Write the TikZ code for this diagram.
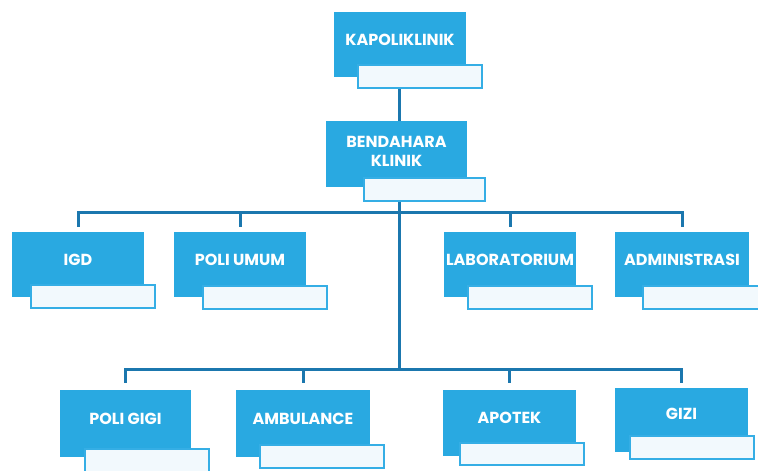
\documentclass[tikz,border=0pt]{standalone}
\usepackage{fontspec}
\newfontfamily\lblfont{Poppins}
\definecolor{boxblue}{HTML}{29A9E1}
\definecolor{linkblue}{HTML}{1B77AE}
\definecolor{wfill}{HTML}{F2F9FD}
\definecolor{wborder}{HTML}{35AEE5}
\tikzset{
  bbox/.style={fill=boxblue, draw=none, inner sep=0pt},
  wbox/.style={fill=wfill, draw=wborder, line width=2pt, inner sep=0pt, minimum width=124pt, minimum height=23pt},
  btext/.style={text=white, font=\lblfont\bfseries\fontsize{16}{19}\selectfont, inner sep=0pt, align=center},
  link/.style={draw=linkblue, line width=3pt}
}
\newcommand\orgunit[5]{%
  \node[bbox, minimum width=#4pt, minimum height=#5pt] (#1) at (#2,#3) {};
}
\begin{document}
\begin{tikzpicture}[x=1pt,y=-1pt]
\useasboundingbox (0,0) rectangle (758,471);
\fill[white] (0,0) rectangle (758,471);

% blue boxes
\orgunit{kapo}{400}{44.5}{132}{65}
\orgunit{bend}{396.5}{154}{141}{66}
\orgunit{igd}{78}{264.5}{132}{65}
\orgunit{umum}{240}{264.5}{132}{65}
\orgunit{lab}{510}{264.5}{132}{65}
\orgunit{adm}{682}{264.5}{134}{65}
\orgunit{gigi}{125.5}{423.5}{131}{67}
\orgunit{amb}{303}{423.5}{134}{67}
\orgunit{apo}{509.5}{423}{133}{66}
\orgunit{gizi}{681.5}{420}{133}{64}

% white boxes
\node[wbox] (kapo-w) at (420,76.5) {};
\node[wbox, minimum width=121pt] (bend-w) at (424.5,189.5) {};
\node[wbox] (igd-w) at (93,296) {};
\node[wbox] (umum-w) at (265,297.5) {};
\node[wbox] (lab-w) at (530,297.5) {};
\node[wbox] (adm-w) at (705,297.5) {};
\node[wbox] (gigi-w) at (146.5,460.5) {};
\node[wbox] (amb-w) at (321.5,456.5) {};
\node[wbox, minimum height=22pt] (apo-w) at (522,454) {};
\node[wbox] (gizi-w) at (692,447) {};

% texts
\node[btext] (kapo-t) at ([yshift=5pt]kapo.center) {KAPOLIKLINIK};
\node[btext] (bend-t) at ([yshift=2.5pt]bend.center) {BENDAHARA\\KLINIK};
\node[btext] (igd-t) at ([yshift=5pt]igd.center) {IGD};
\node[btext] (umum-t) at ([yshift=5pt]umum.center) {POLI UMUM};
\node[btext] (lab-t) at ([yshift=5pt]lab.center) {LABORATORIUM};
\node[btext] (adm-t) at ([yshift=5pt]adm.center) {ADMINISTRASI};
\node[btext] (gigi-t) at ([yshift=5pt]gigi.center) {POLI GIGI};
\node[btext] (amb-t) at ([yshift=5pt]amb.center) {AMBULANCE};
\node[btext] (apo-t) at ([yshift=5pt]apo.center) {APOTEK};
\node[btext] (gizi-t) at ([yshift=6pt]gizi.center) {GIZI};

% connectors
\coordinate (bus1) at (399,212);
\coordinate (bus2) at (399,369);
\draw[link] (kapo-w.south -| bus1) -- (bend.north -| bus1);
\draw[link] (bend-w.south -| bus1) -- (bus2);
\draw[link, shorten <=5pt] (igd.north) |- (bus1);
\draw[link, shorten <=5pt] (umum.north) |- (bus1);
\draw[link, shorten <=5pt] (lab.north) |- (bus1);
\draw[link, shorten <=5pt] (adm.north) |- (bus1);
\draw[link, shorten <=7pt] (gigi.north) |- (bus2);
\draw[link, shorten <=7pt] (amb.north) |- (bus2);
\draw[link, shorten <=7pt] (apo.north) |- (bus2);
\draw[link, shorten <=5pt] (gizi.north) |- (bus2);
\end{tikzpicture}
\end{document}
